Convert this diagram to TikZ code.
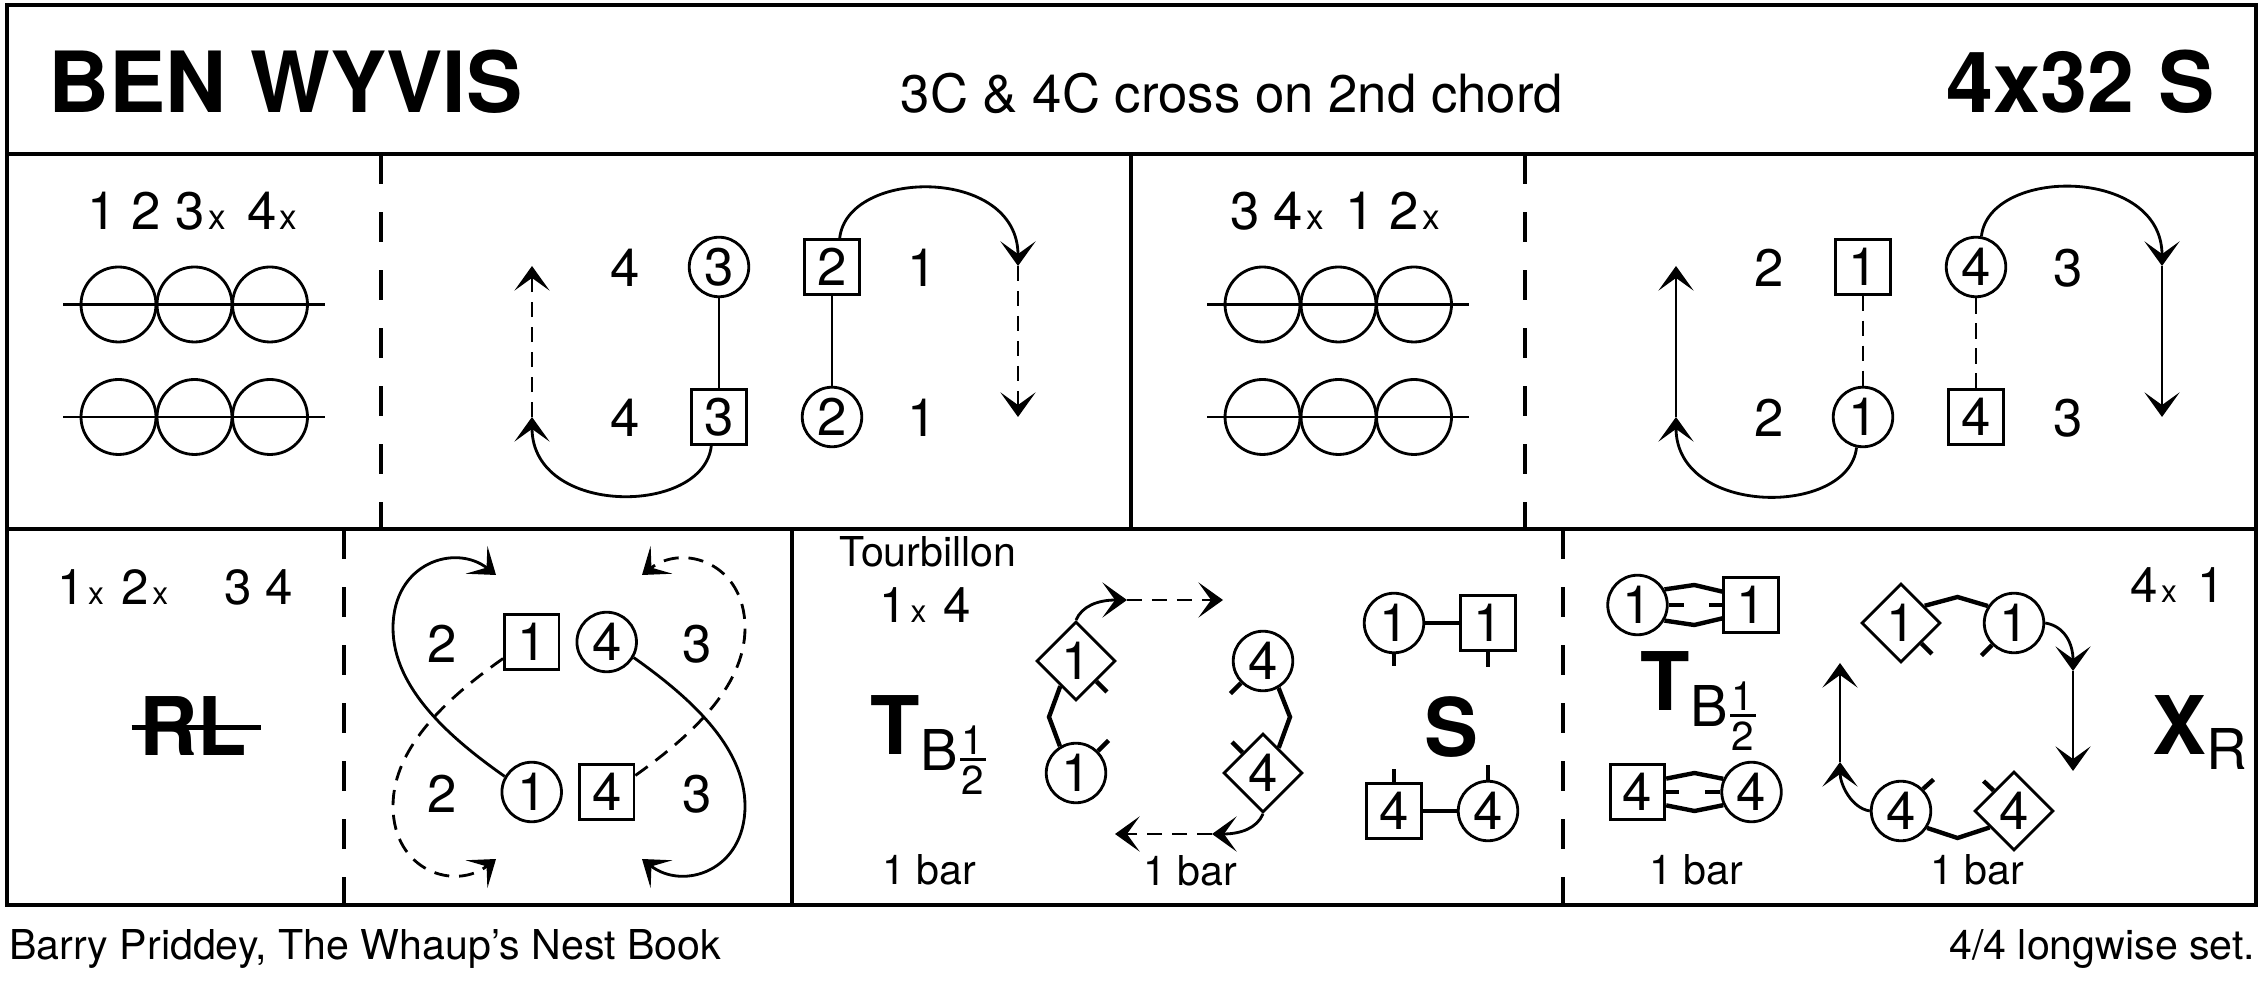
\documentclass[tikz,border=0pt]{standalone}
\usepackage{fontspec}
\setmainfont{TeX Gyre Heros}
\usetikzlibrary{arrows.meta, shapes.geometric, calc}
\newcommand{\crossx}[1][10]{{\fontsize{#1}{#1}\selectfont x}}

\begin{document}
\begin{tikzpicture}[
    x=0.01cm, y=0.01cm,
    outline/.style={line width=1.2pt},
    rulesolid/.style={line width=1.1pt},
    ruledash/.style={line width=1.1pt, dash pattern=on 8.5pt off 8pt},
    num/.style={font=\fontsize{15}{18}\selectfont, inner sep=0pt},
    head/.style={font=\fontsize{14}{17}\selectfont, inner sep=0pt},
    lbl/.style={font=\fontsize{11.7}{14}\selectfont, inner sep=0pt},
    dancetitle/.style={font=\fontsize{24}{29}\selectfont\bfseries, inner sep=0pt},
    sym/.style={font=\fontsize{23}{28}\selectfont\bfseries, inner sep=0pt},
    subsym/.style={font=\fontsize{16}{19}\selectfont, inner sep=0pt},
    fracnum/.style={font=\fontsize{11.5}{14}\selectfont, inner sep=0pt},
    man/.style={num, rectangle, draw, line width=0.8pt, minimum size=0.545cm},
    woman/.style={num, circle, draw, line width=0.8pt, minimum size=0.595cm},
    turner/.style={num, diamond, aspect=1, draw, line width=0.8pt, minimum size=0.79cm},
    link/.style={line width=0.8pt},
    dashlink/.style={link, dash pattern=on 4.5pt off 2.6pt},
    hand/.style={line width=1.25pt},
    move/.style={line width=0.8pt, -{Stealth[length=7pt, width=10pt, inset=3.6pt]}},
    ghost/.style={move, dash pattern=on 4.3pt off 2.8pt}
]
    \useasboundingbox (0,0) rectangle (2267,988);

    \draw[outline] (7,83) rectangle (2256,983);
    \draw[outline] (7,834) -- (2256,834);
    \draw[outline] (7,459) -- (2256,459);
    \draw[rulesolid] (1131,834) -- (1131,459);
    \draw[rulesolid] (792,459) -- (792,83);
    \draw[ruledash] (381,834) -- (381,459);
    \draw[ruledash] (1525,834) -- (1525,459);
    \draw[ruledash] (344,459) -- (344,83);
    \draw[ruledash] (1563,459) -- (1563,83);

    \node[dancetitle, anchor=base west] (name) at (48,875) {BEN WYVIS};
    \node[num, anchor=base] (note) at (1232,875) {3C \& 4C cross on 2nd chord};
    \node[dancetitle, anchor=base east] (form) at (2215,875) {4x32 S};

    \node[num, anchor=base] (hA) at (192.5,758) {1 2 3\kern1pt\crossx\hspace{6pt}4\kern1pt\crossx};
    \node[num, anchor=base] (hC) at (1335,758) {3 4\kern1pt\crossx\hspace{6pt}1 2\kern1pt\crossx};
    \foreach \dx in {0,1144} {
        \foreach \cx in {118.5,194.5,270} {
            \draw[link] (\cx+\dx,683.5) circle (37.5);
            \draw[link] (\cx+\dx,571) circle (37.5);
        }
        \draw[link] (63+\dx,683.5) -- (325+\dx,683.5);
        \draw[link] (63+\dx,571) -- (325+\dx,571);
    }

    \node[num] (a4t) at (625,720) {4};
    \node[woman] (a3t) at (719,721) {3};
    \node[man] (a2t) at (832,721) {2};
    \node[num] (a1t) at (922,720) {1};
    \node[num] (a4b) at (625,570) {4};
    \node[man] (a3b) at (719,571) {3};
    \node[woman] (a2b) at (832,571) {2};
    \node[num] (a1b) at (922,570) {1};
    \draw[link] (a3t) -- (a3b);
    \draw[link] (a2t) -- (a2b);
    \coordinate (aL1) at (532,571);
    \coordinate (aL2) at (532,722);
    \coordinate (aR1) at (1018,722);
    \coordinate (aR2) at (1018,571);
    \draw[move] (a3b.255) .. controls (704,472) and (532,471) .. (aL1);
    \draw[ghost] (aL1) -- (aL2);
    \draw[move] (a2t.75) .. controls (847,820) and (1018,822) .. (aR1);
    \draw[ghost] (aR1) -- (aR2);

    \node[num] (c2t) at (1769,720) {2};
    \node[man] (c1t) at (1863,721) {1};
    \node[woman] (c4t) at (1976,721) {4};
    \node[num] (c3t) at (2068,720) {3};
    \node[num] (c2b) at (1769,570) {2};
    \node[woman] (c1b) at (1863,571) {1};
    \node[man] (c4b) at (1976,571) {4};
    \node[num] (c3b) at (2068,570) {3};
    \draw[dashlink] (c1t) -- (c1b);
    \draw[dashlink] (c4t) -- (c4b);
    \coordinate (cL1) at (1676,571);
    \coordinate (cL2) at (1676,722);
    \coordinate (cR1) at (2162,722);
    \coordinate (cR2) at (2162,571);
    \draw[move] (c1b.258) .. controls (1849,471) and (1676,471) .. (cL1);
    \draw[move] (cL1) -- (cL2);
    \draw[move] (c4t.80) .. controls (1989,821) and (2162,822) .. (cR1);
    \draw[move] (cR1) -- (cR2);

    \node[head, anchor=base] (hRL) at (175,383) {1\kern1pt\crossx[9]\hspace{5pt}2\kern1pt\crossx[9]\hspace{16pt}3 4};
    \node[sym, anchor=base] (rl) at (193,232) {RL};
    \draw[hand] (131.6,260.5) -- (261.2,260.5);

    \node[num] (e2t) at (441.7,344) {2};
    \node[man] (e1t) at (531.7,346) {1};
    \node[woman] (e4t) at (606.7,346) {4};
    \node[num] (e3t) at (696.7,344) {3};
    \node[num] (e2b) at (441.7,194) {2};
    \node[woman] (e1b) at (531.7,196) {1};
    \node[man] (e4b) at (606.7,196) {4};
    \node[num] (e3b) at (696.7,194) {3};
    \coordinate (eA) at (496,413);
    \coordinate (eB) at (496,129);
    \coordinate (eC) at (642,129);
    \coordinate (eD) at (642,413);
    \draw[move] (e1b.150) .. controls (450,250) and (393,300) .. (393,360) .. controls (393,425) and (455,445) .. (eA);
    \draw[ghost] (e1t.210) .. controls (450,292) and (393,242) .. (393,182) .. controls (393,117) and (455,97) .. (eB);
    \draw[move] (e4t.330) .. controls (688,292) and (745,242) .. (745,182) .. controls (745,117) and (683,97) .. (eC);
    \draw[ghost] (e4b.30) .. controls (688,250) and (745,300) .. (745,360) .. controls (745,425) and (683,445) .. (eD);

    \node[lbl, anchor=base] (tour) at (928,421) {Tourbillon};
    \node[head, anchor=base] (hT) at (925.5,365) {1\kern1pt\crossx[9]\hspace{5pt}4};
    \begin{scope}[shift={(895,233)}]
        \node[sym, anchor=base] (tT) at (0,0) {T};
        \node[subsym, anchor=base] (tB) at (44,-16) {B};
        \node[fracnum, anchor=base] (tN) at (78,0.5) {1};
        \node[fracnum, anchor=base] (tD) at (78,-40) {2};
        \draw[line width=0.9pt] (65,-4.5) -- (91,-4.5);
    \end{scope}
    \node[lbl, anchor=base] (bar1) at (929,103) {1 bar};

    \node[turner] (td1) at (1076,327) {1};
    \node[woman] (tc1) at (1076,215) {1};
    \node[woman] (tc4) at (1263,327) {4};
    \node[turner] (td4) at (1263,215) {4};
    \draw[hand] (td1.238) -- ($(td1)!.5!(tc1)+(-27,0)$) -- (tc1.121);
    \draw[hand] (tc4.300) -- ($(tc4)!.5!(td4)+(27,0)$) -- (td4.58);
    \draw[hand] (td1.315) -- ++(10.5,-10.5);
    \draw[hand] (tc1.45) -- ++(10.5,10.5);
    \draw[hand] (tc4.225) -- ++(-10.5,-10.5);
    \draw[hand] (td4.135) -- ++(-10.5,10.5);
    \coordinate (tA) at (1127,388);
    \coordinate (tB2) at (1223,388);
    \coordinate (tC) at (1212,154);
    \coordinate (tD2) at (1115,154);
    \draw[move] (td1.north) .. controls (1082,382) and (1098,388) .. (tA);
    \draw[ghost] (tA) -- (tB2);
    \draw[move] (td4.south) .. controls (1257,160) and (1241,154) .. (tC);
    \draw[ghost] (tC) -- (tD2);
    \node[lbl, anchor=base] (bar2) at (1190,102) {1 bar};

    \node[woman] (sc1) at (1394,365) {1};
    \node[man] (sb1) at (1488,365) {1};
    \node[man] (sb4) at (1394,177) {4};
    \node[woman] (sc4) at (1488,177) {4};
    \draw[hand] (sc1) -- (sb1);
    \draw[hand] (sb4) -- (sc4);
    \draw[hand] (sc1.south) -- ++(0,-12);
    \draw[hand] (sb1.south) -- ++(0,-15);
    \draw[hand] (sb4.north) -- ++(0,13);
    \draw[hand] (sc4.north) -- ++(0,15);
    \node[sym, anchor=base] (sS) at (1451,231) {S};

    \begin{scope}[shift={(1665,277)}]
        \node[sym, anchor=base] (pT) at (0,0) {T};
        \node[subsym, anchor=base] (pB) at (44,-16) {B};
        \node[fracnum, anchor=base] (pN) at (78,0.5) {1};
        \node[fracnum, anchor=base] (pD) at (78,-40) {2};
        \draw[line width=0.9pt] (65,-4.5) -- (91,-4.5);
    \end{scope}
    \node[lbl, anchor=base] (bar3) at (1696,103) {1 bar};

    \node[woman] (pc1) at (1637.5,383) {1};
    \node[man] (pb1) at (1751,383) {1};
    \node[man] (pb4) at (1637.5,196) {4};
    \node[woman] (pc4) at (1751.5,196) {4};
    \draw[hand] (pc1.30) -- ($(pc1)!.5!(pb1)+(0,20)$) -- (pb1.155);
    \draw[hand] (pc1.330) -- ($(pc1)!.5!(pb1)+(0,-20)$) -- (pb1.205);
    \draw[hand] (pc1.east) -- ++(15,0);
    \draw[hand] (pb1.west) -- ++(-13,0);
    \draw[hand] (pb4.25) -- ($(pb4)!.5!(pc4)+(0,19)$) -- (pc4.155);
    \draw[hand] (pb4.335) -- ($(pb4)!.5!(pc4)+(0,-19)$) -- (pc4.205);
    \draw[hand] (pb4.east) -- ++(13,0);
    \draw[hand] (pc4.west) -- ++(-15,0);

    \node[turner] (xd1) at (1901,365) {1};
    \node[woman] (xc1) at (2014,365) {1};
    \node[woman] (xc4) at (1901,177) {4};
    \node[turner] (xd4) at (2014,177) {4};
    \draw[hand] (xd1.36) -- ($(xd1)!.5!(xc1)+(0,26)$) -- (xc1.147);
    \draw[hand] (xc4.327) -- ($(xc4)!.5!(xd4)+(0,-27)$) -- (xd4.214);
    \draw[hand] (xd1.315) -- ++(10.5,-10.5);
    \draw[hand] (xc1.225) -- ++(-10.5,-10.5);
    \draw[hand] (xc4.45) -- ++(10.5,9.5);
    \draw[hand] (xd4.135) -- ++(-10,9.5);
    \coordinate (xA) at (2073,317);
    \coordinate (xB) at (2073,217);
    \coordinate (xC) at (1840,226);
    \coordinate (xD) at (1840,325);
    \draw[move] (xc1.east) .. controls (2064,362) and (2073,345) .. (xA);
    \draw[move] (xA) -- (xB);
    \draw[move] (xc4.west) .. controls (1851,180) and (1840,204) .. (xC);
    \draw[move] (xC) -- (xD);
    \node[lbl, anchor=base] (bar4) at (1977,103) {1 bar};
    \node[head, anchor=base] (hX) at (2177.7,385) {4\kern1pt\crossx[9]\hspace{6pt}1};
    \node[sym, anchor=base] (xX) at (2179,233) {X};
    \node[subsym, anchor=base] (xR) at (2227,218) {R};

    \node[lbl, anchor=base west] (src) at (8.5,28) {Barry Priddey, The Whaup’s Nest Book};
    \node[lbl, anchor=base east] (set) at (2256,28) {4/4 longwise set.};
\end{tikzpicture}
\end{document}
